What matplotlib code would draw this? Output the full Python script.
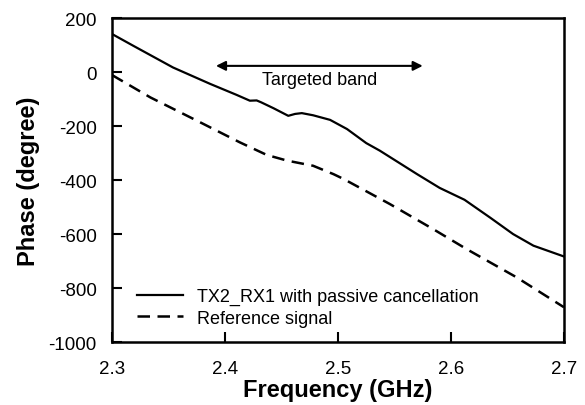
import matplotlib
matplotlib.use("Agg")
import matplotlib.pyplot as plt

plt.rcParams['font.family'] = ['Liberation Sans', 'DejaVu Sans']
plt.rcParams['axes.unicode_minus'] = False

# solid: TX2_RX1 with passive cancellation
freq_tx = [2.300, 2.319, 2.354, 2.387, 2.410, 2.422, 2.428, 2.432, 2.443, 2.456, 2.462, 2.468,
           2.478, 2.493, 2.508, 2.525, 2.537, 2.570, 2.590, 2.612, 2.635, 2.655, 2.673, 2.700]
phase_tx = [141, 97, 17, -44, -84, -106, -105, -112, -134, -162, -155, -152,
            -160, -177, -211, -263, -291, -378, -429, -473, -540, -600, -643, -683]

# dashed: reference signal
freq_ref = [2.300, 2.334, 2.378, 2.413, 2.437, 2.455, 2.478, 2.496, 2.505, 2.546,
            2.584, 2.614, 2.658, 2.700]
phase_ref = [-11, -94, -186, -260, -307, -328, -347, -378, -396, -489,
             -581, -656, -760, -871]

band = [2.392, 2.575]
band_y = 23

fig = plt.figure(figsize=(5.85, 4.06), dpi=100)
ax = fig.add_axes([0.1915, 0.155, 0.7725, 0.798])

ax.plot(freq_tx, phase_tx, color='black', lw=1.6, label='TX2_RX1 with passive cancellation')
ax.plot(freq_ref, phase_ref, color='black', lw=1.8, ls=(0, (5, 3)), label='Reference signal')

ax.annotate('', xy=(band[0], band_y), xytext=(band[1], band_y),
            arrowprops=dict(arrowstyle='<|-|>', color='black', lw=1.5,
                            mutation_scale=14, shrinkA=0, shrinkB=0))
ax.text(sum(band) / 2, band_y - 20, 'Targeted band', ha='center', va='top', fontsize=13)

ax.set_xlim(2.3, 2.7)
ax.set_ylim(-1000, 200)
ax.set_xticks([2.3, 2.4, 2.5, 2.6, 2.7])
ax.set_yticks(range(-1000, 201, 200))
ax.tick_params(direction='in', length=7, width=1.5, labelsize=13.5)
ax.tick_params(axis='x', pad=13)
ax.tick_params(axis='y', pad=11)
for s in ax.spines.values():
    s.set_linewidth(1.8)

ax.set_xlabel('Frequency (GHz)', fontsize=17, fontweight='bold', labelpad=0.5)
ax.set_ylabel('Phase (degree)', fontsize=17, fontweight='bold', labelpad=6)

ax.legend(loc='lower left', frameon=False, fontsize=13, handlelength=2.55,
          handletextpad=0.75, borderaxespad=0.0, labelspacing=0.25,
          bbox_to_anchor=(0.04, 0.025))

fig.savefig('out.png', dpi=100)
